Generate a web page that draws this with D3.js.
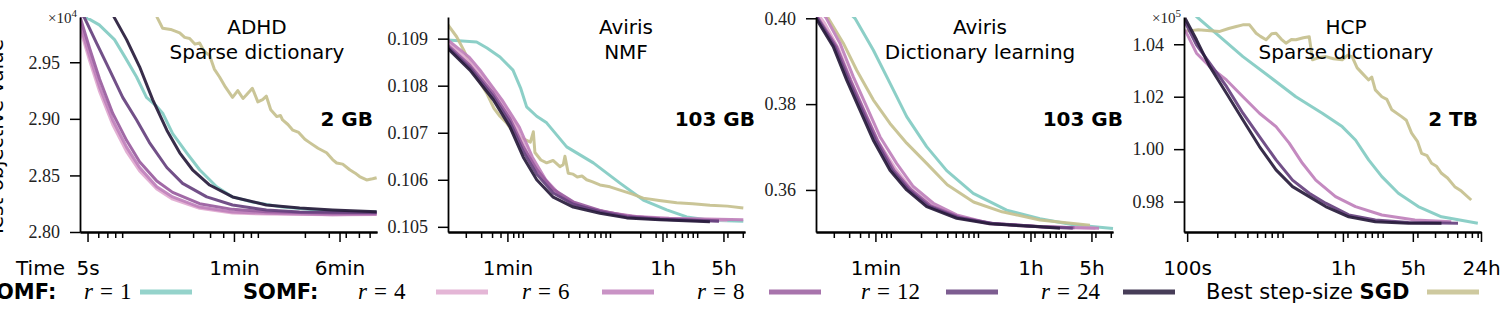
<!DOCTYPE html>
<html>
<head>
<meta charset="utf-8">
<script src="https://cdn.jsdelivr.net/npm/d3@7"></script>
<style>
  body { margin: 0; background: #fff; }
  svg { display: block; }
</style>
</head>
<body>
<svg id="chart" width="1501" height="309"></svg>
<script>
// Test objective vs. time (s), log time axis. Each series is [time in s, value].

// ---- tick values and labels ----
const adhdXTicks = [5, 60, 360];
const adhdXLabels = ["5s", "1min", "6min"];
const avirisXTicks = [60, 3600, 18000];
const avirisXLabels = ["1min", "1h", "5h"];
const hcpXTicks = [100, 3600, 18000, 86400];
const hcpXLabels = ["100s", "1h", "5h", "24h"];

const adhdYTicks = [2.80, 2.85, 2.90, 2.95];
const nmfYTicks = [0.105, 0.106, 0.107, 0.108, 0.109];
const dlYTicks = [0.36, 0.38, 0.40];
const hcpYTicks = [0.98, 1.00, 1.02, 1.04];

// ---- ADHD, sparse dictionary (x 1e4) ----
const adhdOmf1 = [[4.4,2.996],[5.0,2.989],[6.1,2.983],[7.9,2.970],[9.4,2.955],[11.5,2.937],[13.6,2.919],[16.2,2.911],[17.9,2.905],[21.2,2.887],[26.9,2.870],[33.5,2.855],[44.7,2.840],[58.6,2.831],[82,2.8265],[137,2.822],[244,2.8194],[428,2.8177],[676,2.8177]];
const adhdSgd = [[15.5,2.996],[16.4,2.989],[17.9,2.980],[20.5,2.979],[23.9,2.976],[26,2.972],[28.3,2.971],[31,2.966],[33.5,2.967],[36,2.960],[39.7,2.956],[43,2.944],[47,2.937],[52,2.928],[58.6,2.919],[64,2.925],[70,2.918],[74,2.921],[82,2.927],[90,2.915],[97.6,2.917],[104,2.920],[112,2.908],[124,2.902],[132,2.903],[137,2.899],[150,2.895],[163,2.890],[180,2.888],[200,2.882],[217,2.879],[250,2.874],[289,2.870],[320,2.864],[343,2.861],[380,2.860],[428,2.855],[470,2.852],[506,2.849],[570,2.846],[631,2.847],[676,2.848]];
const adhdR4 = [[4.38,2.981],[5.19,2.951],[6.14,2.924],[7.66,2.895],[9.7,2.871],[12.1,2.854],[16.2,2.838],[21.2,2.829],[33.5,2.821],[58.6,2.8168],[104,2.8158],[320,2.8152],[676,2.8158]];
const adhdR6 = [[4.38,2.984],[5.19,2.955],[6.14,2.928],[7.66,2.899],[9.7,2.875],[12.1,2.857],[16.2,2.840],[21.2,2.831],[33.5,2.822],[58.6,2.8177],[104,2.8165],[320,2.8152],[676,2.8155]];
const adhdR8 = [[4.38,2.991],[5.19,2.962],[6.14,2.935],[7.66,2.905],[9.7,2.881],[12.1,2.862],[16.2,2.845],[21.2,2.835],[33.5,2.825],[58.6,2.820],[104,2.818],[320,2.8165],[676,2.8165]];
const adhdR12 = [[4.5,2.993],[4.76,2.989],[5.83,2.967],[7.28,2.943],[9.08,2.919],[11.5,2.899],[14.3,2.879],[19.2,2.857],[25.1,2.843],[37.8,2.831],[58.6,2.8239],[104,2.8194],[183,2.8177],[676,2.8172]];
const adhdR24 = [[7.4,2.996],[7.92,2.989],[9.7,2.970],[12.1,2.946],[15.1,2.917],[19.2,2.890],[23.9,2.870],[29.7,2.855],[39.7,2.8415],[58.6,2.831],[104,2.8239],[183,2.8212],[320,2.8194],[676,2.8178]];

// ---- Aviris, NMF ----
const nmfOmf1 = [[12.5,0.10897],[26.6,0.10893],[35,0.10880],[49.3,0.10861],[69.5,0.10833],[85,0.10795],[99.7,0.10755],[130,0.10735],[169,0.10721],[287,0.10670],[580,0.10636],[1172,0.10593],[2168,0.10557],[4020,0.10536],[6820,0.10521],[12600,0.10514],[30400,0.10512]];
const nmfSgd = [[12.5,0.10929],[15.7,0.10904],[19,0.10875],[22.3,0.10848],[28,0.10812],[34.7,0.10784],[42,0.10752],[49.3,0.10735],[58,0.10722],[69.5,0.10702],[85,0.10690],[99.7,0.10684],[110,0.10680],[119,0.10702],[124,0.10658],[145,0.10642],[169,0.10636],[200,0.10641],[240,0.10628],[262,0.10632],[274,0.10650],[299,0.10614],[340,0.10612],[380,0.10606],[430,0.10608],[486,0.10600],[560,0.10596],[691,0.10589],[900,0.10585],[1172,0.10578],[1600,0.10570],[2168,0.10561],[3300,0.10556],[5240,0.10551],[8000,0.10549],[12600,0.10546],[20000,0.10544],[30400,0.10540]];
const nmfR4 = [[12.5,0.10892],[22.3,0.10850],[41.3,0.10792],[72,0.10722],[102,0.10655],[146,0.10607],[225,0.10568],[382,0.10545],[780,0.10532],[1600,0.10522],[3800,0.10517],[20000,0.10514]];
const nmfR6 = [[12.5,0.10897],[22,0.10860],[30,0.10830],[52,0.10770],[82,0.10712],[116,0.10648],[165,0.10600],[255,0.10563],[433,0.10542],[880,0.10530],[1800,0.10522],[4300,0.10518],[30400,0.10515]];
const nmfR8 = [[12.5,0.10886],[22.3,0.10843],[41.3,0.10784],[64.2,0.10730],[91.2,0.10670],[130,0.10622],[201,0.10580],[341,0.10553],[691,0.10535],[1400,0.10523],[3370,0.10517],[16000,0.10513]];
const nmfR12 = [[12.5,0.10882],[22.3,0.10838],[41.3,0.10777],[64.2,0.10722],[91.2,0.10660],[130,0.10612],[201,0.10572],[341,0.10548],[691,0.10532],[1400,0.10521],[3370,0.10516],[16000,0.10512]];
const nmfR24 = [[12.5,0.10879],[22.3,0.10833],[41.3,0.10770],[64.2,0.10712],[91.2,0.10648],[130,0.10600],[201,0.10563],[341,0.10542],[691,0.10529],[1400,0.10519],[3370,0.10515],[12600,0.10511]];

// ---- Aviris, dictionary learning ----
const dlOmf1 = [[31,0.4010],[35,0.4000],[56.7,0.3926],[88.1,0.3849],[137,0.3771],[232,0.3701],[394,0.3645],[794,0.3592],[1920,0.3553],[4620,0.3533],[11100,0.3519],[31800,0.3510]];
const dlSgd = [[16,0.4010],[17.3,0.4000],[25.7,0.3942],[36.6,0.3879],[56.7,0.3810],[88.1,0.3755],[137,0.3709],[232,0.3662],[400,0.3612],[800,0.3572],[1700,0.3549],[4620,0.3530],[17300,0.3518]];
const dlR4 = [[12.5,0.4015],[15.5,0.3990],[22.5,0.3930],[32,0.3852],[45.5,0.3782],[65,0.3712],[100,0.3652],[156,0.3601],[265,0.3564],[495,0.3539],[1200,0.3521],[4500,0.3514],[20000,0.3511]];
const dlR6 = [[15,0.4010],[16.3,0.4001],[23.5,0.3942],[33.4,0.3864],[47.6,0.3794],[67.7,0.3724],[105,0.3662],[163,0.3608],[277,0.3569],[513,0.3542],[1230,0.3522],[4620,0.3514],[22000,0.3511]];
const dlR8 = [[12.5,0.4008],[21.5,0.3934],[31,0.3856],[44,0.3786],[63,0.3716],[98,0.3646],[152,0.3601],[260,0.3563],[560,0.3536],[1350,0.3522],[5000,0.3514],[11500,0.3512]];
const dlR12 = [[12.5,0.4005],[20.5,0.3934],[29.5,0.3856],[42,0.3786],[60,0.3716],[93,0.3646],[145,0.3600],[245,0.3562],[540,0.3535],[1300,0.3522],[4800,0.3514],[11000,0.3511]];
const dlR24 = [[12.5,0.4000],[19.7,0.3934],[28.1,0.3856],[39.9,0.3786],[56.7,0.3716],[88.1,0.3646],[137,0.3600],[232,0.3561],[513,0.3534],[1230,0.3521],[4620,0.3514],[7840,0.3511]];

// ---- HCP, sparse dictionary (x 1e5) ----
const hcpOmf1 = [[105,1.0530],[129,1.0500],[212,1.0429],[361,1.0353],[663,1.0277],[1220,1.0200],[2240,1.0137],[3540,1.0086],[4810,1.0035],[6510,0.9959],[8830,0.9895],[12900,0.9832],[20400,0.9781],[34800,0.9742],[80300,0.9717]];
const hcpSgd = [[93,1.0451],[110,1.0452],[129,1.0455],[170,1.0452],[212,1.0449],[260,1.0460],[310,1.0468],[360,1.0474],[420,1.0474],[489,1.0442],[540,1.0430],[615,1.0417],[700,1.0440],[773,1.0442],[870,1.0420],[971,1.0404],[1100,1.0418],[1220,1.0417],[1450,1.0425],[1660,1.0429],[1790,1.0341],[2100,1.0350],[2430,1.0353],[2900,1.0345],[3540,1.0341],[4000,1.0358],[4450,1.0353],[5000,1.0310],[5600,1.0290],[6510,1.0264],[7000,1.0275],[7590,1.0226],[8830,1.0200],[9900,1.0190],[11100,1.0150],[13900,1.0124],[15500,1.0110],[17500,1.0061],[20000,1.0030],[22000,0.9984],[25000,0.9975],[27700,0.9946],[31000,0.9935],[34800,0.9908],[40000,0.9890],[47200,0.9857],[55000,0.9840],[69000,0.9806]];
const hcpR6 = [[95,1.0455],[124,1.0366],[168,1.0315],[247,1.0264],[361,1.0200],[528,1.0137],[773,1.0086],[1047,1.0023],[1420,0.9946],[1930,0.9882],[3040,0.9819],[4810,0.9781],[8830,0.9749],[18900,0.9730],[43600,0.9723]];
const hcpR12 = [[95,1.0486],[124,1.0398],[168,1.0328],[247,1.0239],[361,1.0137],[528,1.0048],[773,0.9959],[1130,0.9882],[1660,0.9832],[2420,0.9794],[4120,0.9749],[7590,0.9730],[16300,0.9720],[50900,0.9717]];
const hcpR24 = [[95,1.0500],[124,1.0417],[168,1.0315],[247,1.0213],[361,1.0111],[528,1.0010],[773,0.9921],[1130,0.9857],[1660,0.9819],[2420,0.9781],[4120,0.9742],[7590,0.9723],[16300,0.9717],[34800,0.9717]];

// ---- styling / layout ----
const seriesOrder = ["omf1", "sgd", "r4", "r6", "r8", "r12", "r24"];
const colors = {
  omf1: "#82cbc2", sgd: "#c5c08e", r4: "#dfa9cf", r6: "#bf80bb",
  r8: "#995c9e", r12: "#66417e", r24: "#271b3b"
};
const plotTop = 17, plotBottom = 232, plotWidth = 297;

const panels = [
  {x0: 80, xDomain: [4.4, 680], yDomain: [2.80, 2.99], yTicks: adhdYTicks, yFormat: ".2f",
   xTicks: adhdXTicks, xLabels: adhdXLabels, title: ["ADHD", "Sparse dictionary"], titleX: 177,
   size: "2 GB", sizeX: 293, exponent: "4",
   series: {omf1: adhdOmf1, sgd: adhdSgd, r4: adhdR4, r6: adhdR6, r8: adhdR8, r12: adhdR12, r24: adhdR24}},
  {x0: 448, xDomain: [12.5, 31800], yDomain: [0.10489, 0.10946], yTicks: nmfYTicks, yFormat: ".3f",
   xTicks: avirisXTicks, xLabels: avirisXLabels, title: ["Aviris", "NMF"], titleX: 178,
   size: "103 GB", sizeX: 307,
   series: {omf1: nmfOmf1, sgd: nmfSgd, r4: nmfR4, r6: nmfR6, r8: nmfR8, r12: nmfR12, r24: nmfR24}},
  {x0: 816, xDomain: [12.5, 31800], yDomain: [0.3502, 0.4003], yTicks: dlYTicks, yFormat: ".2f",
   xTicks: avirisXTicks, xLabels: avirisXLabels, title: ["Aviris", "Dictionary learning"], titleX: 164,
   size: "103 GB", sizeX: 307,
   series: {omf1: dlOmf1, sgd: dlSgd, r4: dlR4, r6: dlR6, r8: dlR8, r12: dlR12, r24: dlR24}},
  {x0: 1184, xDomain: [93, 86400], yDomain: [0.9684, 1.0504], yTicks: hcpYTicks, yFormat: ".2f",
   xTicks: hcpXTicks, xLabels: hcpXLabels, title: ["HCP", "Sparse dictionary"], titleX: 162,
   size: "2 TB", sizeX: 294, exponent: "5",
   series: {omf1: hcpOmf1, sgd: hcpSgd, r6: hcpR6, r12: hcpR12, r24: hcpR24}}
];

const sans = "'DejaVu Sans', sans-serif";
const serif = "'Liberation Serif', 'DejaVu Serif', serif";

const svg = d3.select("#chart");
const defs = svg.append("defs");

panels.forEach((p, i) => {

  const x = d3.scaleLog().domain(p.xDomain).range([p.x0, p.x0 + plotWidth]);
  const y = d3.scaleLinear().domain(p.yDomain).range([plotBottom, plotTop]);
  const g = svg.append("g");

  defs.append("clipPath").attr("id", "clip" + i)
    .append("rect")
    .attr("x", p.x0).attr("y", plotTop)
    .attr("width", plotWidth + 2).attr("height", plotBottom - plotTop);

  const line = d3.line().x(d => x(d[0])).y(d => y(d[1]));

  seriesOrder.forEach(k => {
    if (!p.series[k]) return;
    g.append("path")
      .datum(p.series[k])
      .attr("clip-path", `url(#clip${i})`)
      .attr("d", line)
      .attr("fill", "none")
      .attr("stroke", colors[k])
      .attr("stroke-opacity", 0.92)
      .attr("stroke-width", 3)
      .attr("stroke-linejoin", "round");
  });

  // minor log ticks at 2..9 x 10^n
  const minor = [];
  for (let e = 0; e < 6; e++) {
    for (let m = 2; m <= 9; m++) {
      const v = m * Math.pow(10, e);
      if (v >= p.xDomain[0] && v <= p.xDomain[1] && !p.xTicks.includes(v)) minor.push(v);
    }
  }

  const minorAxis = g.append("g")
    .attr("transform", `translate(0,${plotBottom})`)
    .call(d3.axisBottom(x).tickValues(minor).tickFormat("").tickSize(6).tickSizeOuter(0));

  const xAxis = g.append("g")
    .attr("transform", `translate(0,${plotBottom})`)
    .call(d3.axisBottom(x).tickValues(p.xTicks)
      .tickFormat(d => p.xLabels[p.xTicks.indexOf(d)])
      .tickSize(10).tickSizeOuter(0).tickPadding(19));

  const yAxis = g.append("g")
    .attr("transform", `translate(${p.x0},0)`)
    .call(d3.axisLeft(y).tickValues(p.yTicks).tickFormat(d3.format(p.yFormat))
      .tickSize(10).tickSizeOuter(0).tickPadding(10));

  [minorAxis, xAxis, yAxis].forEach(a => {
    a.select(".domain").attr("stroke", "#000").attr("stroke-width", 1.8);
    a.selectAll(".tick line").attr("stroke", "#000").attr("stroke-width", 1.5);
  });
  xAxis.selectAll(".tick text")
    .attr("font-family", sans).attr("font-size", 20).attr("fill", "#000");
  yAxis.selectAll(".tick text")
    .attr("font-family", serif).attr("font-size", 18).attr("fill", "#222");

  // titles
  g.append("text")
    .attr("x", p.x0 + p.titleX).attr("y", 34)
    .attr("text-anchor", "middle")
    .attr("font-family", sans).attr("font-size", 20)
    .text(p.title[0]);
  g.append("text")
    .attr("x", p.x0 + p.titleX).attr("y", 59)
    .attr("text-anchor", "middle")
    .attr("font-family", sans).attr("font-size", 20)
    .text(p.title[1]);

  g.append("text")
    .attr("x", p.x0 + p.sizeX).attr("y", 126)
    .attr("text-anchor", "end")
    .attr("font-family", sans).attr("font-size", 20).attr("font-weight", "bold")
    .text(p.size);

  if (p.exponent) {
    const ex = g.append("text")
      .attr("x", p.x0 - 3).attr("y", 23)
      .attr("text-anchor", "end")
      .attr("font-family", serif).attr("font-size", 15).attr("fill", "#222");
    ex.append("tspan").text("\u00d710");
    ex.append("tspan").attr("font-size", 11).attr("dy", -6).text(p.exponent);
  }
});

// x label and y label (cropped at the left edge, as in the source figure)
svg.append("text")
  .attr("x", 16).attr("y", 275)
  .attr("font-family", sans).attr("font-size", 20)
  .text("Time");

svg.append("text")
  .attr("transform", "translate(3,138) rotate(-90)")
  .attr("text-anchor", "middle")
  .attr("font-family", sans).attr("font-size", 20)
  .text("Test objective value");

// ---- legend ----
const legendRows = [
  {group: "OMF:", groupX: -4},
  {group: "SOMF:", groupX: 243}
];
const legendItems = [
  {key: "omf1", rank: "1", textX: 84, lineX: 140},
  {key: "r4", rank: "4", textX: 358, lineX: 436},
  {key: "r6", rank: "6", textX: 522, lineX: 602},
  {key: "r8", rank: "8", textX: 697, lineX: 769},
  {key: "r12", rank: "12", textX: 861, lineX: 946},
  {key: "r24", rank: "24", textX: 1041, lineX: 1123},
  {key: "sgd", rank: null, textX: 1206, lineX: 1427}
];
const legendY = 299, legendLineY = 292, legendLineW = 52;

const legend = svg.append("g");

legendRows.forEach(r => {
  legend.append("text")
    .attr("x", r.groupX).attr("y", legendY)
    .attr("font-family", sans).attr("font-size", 21).attr("font-weight", "bold")
    .text(r.group);
});

legendItems.forEach(it => {
  const t = legend.append("text")
    .attr("x", it.textX).attr("y", legendY)
    .attr("font-size", 23);
  if (it.rank) {
    t.attr("font-family", serif);
    t.append("tspan").attr("font-style", "italic").text("r");
    t.append("tspan").attr("dx", 7).text("=");
    t.append("tspan").attr("dx", 7).text(it.rank);
  } else {
    t.attr("font-family", sans).attr("font-size", 21);
    t.append("tspan").text("Best step-size ");
    t.append("tspan").attr("font-weight", "bold").text("SGD");
  }
  legend.append("line")
    .attr("x1", it.lineX).attr("x2", it.lineX + legendLineW)
    .attr("y1", legendLineY).attr("y2", legendLineY)
    .attr("stroke", colors[it.key])
    .attr("stroke-opacity", 0.85)
    .attr("stroke-width", 5);
});
</script>
</body>
</html>
